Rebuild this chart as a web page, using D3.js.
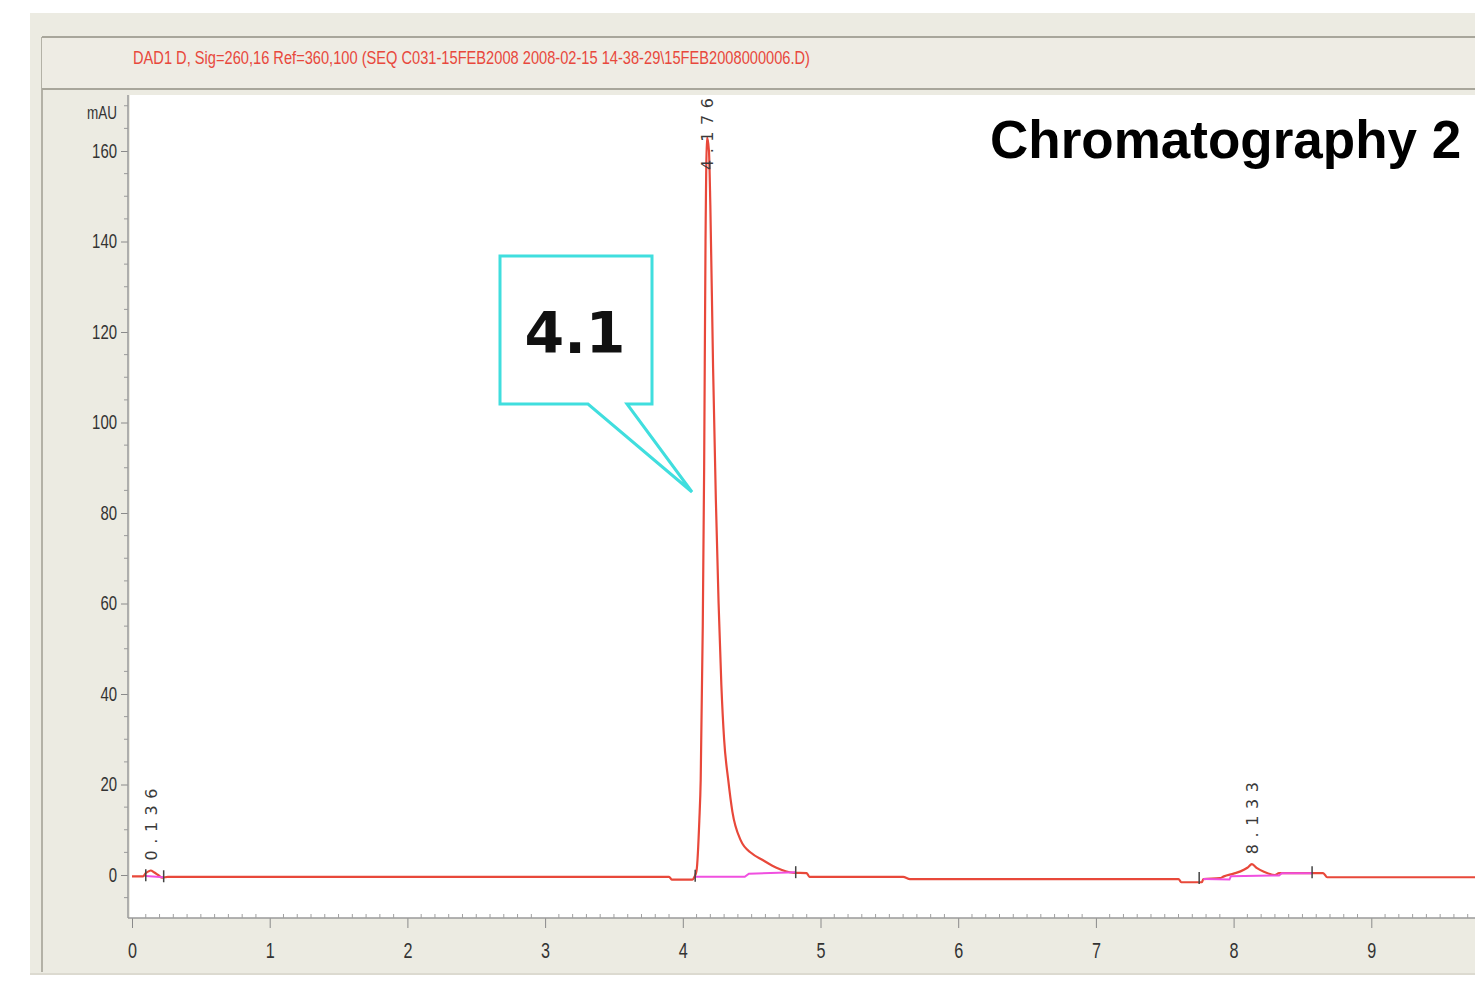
<!DOCTYPE html>
<html>
<head>
<meta charset="utf-8">
<script src="https://cdn.jsdelivr.net/npm/d3@7"></script>
<style>
  body { margin: 0; background: #fff; }
  svg { display: block; }
</style>
</head>
<body>
<div id="chart"></div>
<script>
// DATA
const headerText = "DAD1 D, Sig=260,16 Ref=360,100 (SEQ C031-15FEB2008 2008-02-15 14-38-29\\15FEB2008000006.D)";
const chartTitle = "Chromatography 2";
const calloutText = "4.1";

// signal trace: retention time (min), absorbance (mAU)
const traceTime = [0.00, 0.08, 0.10, 0.12, 0.136, 0.16, 0.19, 0.22, 0.26, 3.90, 3.92, 4.07, 4.085,
  4.10, 4.12, 4.13, 4.145, 4.155, 4.165, 4.176, 4.19, 4.20, 4.22, 4.24, 4.26, 4.28, 4.30, 4.33,
  4.36, 4.42, 4.50, 4.58, 4.68, 4.80, 4.90, 4.92, 5.60, 5.65, 7.60, 7.62, 7.77, 7.78, 7.90, 7.93,
  8.00, 8.05, 8.10, 8.133, 8.17, 8.22, 8.30, 8.33, 8.65, 8.68, 10.0];
const traceMAU = [-0.3, -0.3, 0.4, 0.8, 1.0, 0.6, 0.0, -0.6, -0.4, -0.4, -1.0, -1.0, -0.4,
  1.0, 12, 21, 55, 90, 140, 163, 160, 148, 112, 83, 60, 42, 30, 21,
  14, 7.7, 4.8, 3.3, 1.6, 0.5, 0.4, -0.4, -0.4, -0.9, -0.9, -1.6, -1.6, -0.9, -0.7, -0.3,
  0.3, 0.8, 1.6, 2.4, 1.5, 0.7, 0.0, 0.4, 0.4, -0.5, -0.5];

// integration baselines (magenta)
const baseline1Time = [0.10, 0.23];
const baseline1MAU = [-0.2, -0.5];
const baseline2Time = [4.09, 4.45, 4.48, 4.82];
const baseline2MAU = [-0.4, -0.4, 0.3, 0.6];
const baseline3Time = [7.78, 7.97, 7.98, 8.33, 8.35, 8.57];
const baseline3MAU = [-0.9, -1.0, -0.3, -0.1, 0.4, 0.4];

// peak start/end marks
const markTime = [0.10, 0.23, 4.09, 4.82, 7.75, 8.57];
const markMAU = [-0.3, -0.5, -0.4, 0.4, -0.9, 0.4];

// peak labels
const peakTime = [0.136, 4.176, 8.133];
const peakMAU = [1.0, 163, 2.4];
const peakLabel = ["0.136", "4.176", "8.133"];

// axes
const xTicks = [0, 1, 2, 3, 4, 5, 6, 7, 8, 9];
const yTicks = [0, 20, 40, 60, 80, 100, 120, 140, 160];

// SIZES
const W = 1475, H = 982;
const plotLeft = 130, plotTop = 95, plotBottom = 918;

const svg = d3.select("#chart").append("svg")
  .attr("width", W)
  .attr("height", H);

// SCALES
const xScale = d3.scaleLinear().domain([0, 10]).range([132, 132 + 10 * 137.7]);
const yScale = d3.scaleLinear().domain([0, 160]).range([875, 151]);

// PANEL BACKGROUND
svg.append("rect")
  .attr("x", 30).attr("y", 13)
  .attr("width", W - 30).attr("height", 961)
  .attr("fill", "#ecebe2");
svg.append("line")
  .attr("x1", 42).attr("x2", 42).attr("y1", 37).attr("y2", 972)
  .attr("stroke", "#b3b1a6").attr("stroke-width", 2);
svg.append("line")
  .attr("x1", 30).attr("x2", W).attr("y1", 974).attr("y2", 974)
  .attr("stroke", "#dcdad0").attr("stroke-width", 2);

// header band
svg.append("rect")
  .attr("x", 42).attr("y", 37)
  .attr("width", W - 42).attr("height", 52)
  .attr("fill", "#eeece4");
svg.append("line")
  .attr("x1", 42).attr("x2", W).attr("y1", 37).attr("y2", 37)
  .attr("stroke", "#a8a69b").attr("stroke-width", 2);
svg.append("line")
  .attr("x1", 42).attr("x2", W).attr("y1", 89).attr("y2", 89)
  .attr("stroke", "#a8a69b").attr("stroke-width", 2);

svg.append("text")
  .attr("x", 133).attr("y", 64)
  .attr("font-family", "'Liberation Sans', Arial, sans-serif")
  .attr("font-size", 19)
  .attr("fill", "#e8483c")
  .attr("textLength", 677)
  .attr("lengthAdjust", "spacingAndGlyphs")
  .text(headerText);

// plot area
svg.append("rect")
  .attr("x", plotLeft).attr("y", plotTop)
  .attr("width", W - plotLeft).attr("height", plotBottom - plotTop)
  .attr("fill", "#ffffff");

// AXES
const axisFont = "'Liberation Sans', Arial, sans-serif";
const digitW = 8.3; // labels are drawn condensed

// y axis: major ticks + minor ticks every 5
const yAxis = d3.axisLeft(yScale).tickValues(yTicks).tickSize(7).tickPadding(4).tickFormat(d3.format("d"));
const yAxisGroup = svg.append("g")
  .attr("transform", `translate(${plotLeft - 2},0)`)
  .call(yAxis);
yAxisGroup.select(".domain").remove();
yAxisGroup.append("line")
  .attr("x1", 0).attr("x2", 0).attr("y1", plotTop).attr("y2", plotBottom)
  .attr("stroke", "#9a9a9a").attr("stroke-width", 1.5);
yAxisGroup.selectAll(".tick line").attr("stroke", "#8a8a8a");
yAxisGroup.selectAll(".tick text")
  .attr("font-family", axisFont).attr("font-size", 20).attr("fill", "#333")
  .attr("textLength", d => String(d).length * digitW)
  .attr("lengthAdjust", "spacingAndGlyphs");
const yMinor = d3.range(-5, 171, 5).filter(v => v % 20 !== 0);
yAxisGroup.selectAll(".minor").data(yMinor).join("line")
  .attr("class", "minor")
  .attr("x1", -4).attr("x2", 0)
  .attr("y1", d => yScale(d)).attr("y2", d => yScale(d))
  .attr("stroke", "#9a9a9a");
yAxisGroup.append("text")
  .attr("x", -11).attr("y", 119)
  .attr("text-anchor", "end")
  .attr("font-family", axisFont).attr("font-size", 18).attr("fill", "#333")
  .attr("textLength", 30)
  .attr("lengthAdjust", "spacingAndGlyphs")
  .text("mAU");

// x axis
const xAxis = d3.axisBottom(xScale).tickValues(xTicks).tickSize(10).tickPadding(14).tickFormat(d3.format("d"));
const xAxisGroup = svg.append("g")
  .attr("transform", `translate(0,${plotBottom})`)
  .call(xAxis);
xAxisGroup.select(".domain").remove();
xAxisGroup.append("line")
  .attr("x1", plotLeft - 2).attr("x2", W).attr("y1", 0).attr("y2", 0)
  .attr("stroke", "#9a9a9a").attr("stroke-width", 1.5);
xAxisGroup.selectAll(".tick line").attr("stroke", "#8a8a8a");
xAxisGroup.selectAll(".tick text")
  .attr("font-family", axisFont).attr("font-size", 22).attr("fill", "#333")
  .attr("textLength", 9)
  .attr("lengthAdjust", "spacingAndGlyphs");
const xMinor = d3.range(1, 101).map(i => i / 10).filter(v => Math.abs(v - Math.round(v)) > 0.01);
xAxisGroup.selectAll(".minor").data(xMinor).join("line")
  .attr("class", "minor")
  .attr("x1", d => xScale(d)).attr("x2", d => xScale(d))
  .attr("y1", -4).attr("y2", 0)
  .attr("stroke", "#a0a0a0");

// TRACE
const plot = svg.append("g");
const line = d3.line().x(d => xScale(d[0])).y(d => yScale(d[1]));
const smoothLine = d3.line().curve(d3.curveMonotoneX).x(d => xScale(d[0])).y(d => yScale(d[1]));

const traceData = traceTime.map((t, i) => [t, traceMAU[i]]);
plot.append("path")
  .datum(traceData)
  .attr("d", smoothLine)
  .attr("fill", "none")
  .attr("stroke", "#e8483a")
  .attr("stroke-width", 2.2)
  .attr("stroke-linejoin", "round");

const baselines = [
  baseline1Time.map((t, i) => [t, baseline1MAU[i]]),
  baseline2Time.map((t, i) => [t, baseline2MAU[i]]),
  baseline3Time.map((t, i) => [t, baseline3MAU[i]])
];
plot.selectAll(".baseline").data(baselines).join("path")
  .attr("class", "baseline")
  .attr("d", line)
  .attr("fill", "none")
  .attr("stroke", "#f050e0")
  .attr("stroke-width", 2);

// peak start/end marks
plot.selectAll(".mark").data(markTime).join("line")
  .attr("class", "mark")
  .attr("x1", d => xScale(d)).attr("x2", d => xScale(d))
  .attr("y1", (d, i) => yScale(markMAU[i]) - 7)
  .attr("y2", (d, i) => yScale(markMAU[i]) + 5)
  .attr("stroke", "#444")
  .attr("stroke-width", 1.5);

// peak labels (rotated, clamped inside the top of the plot)
const labelLen = 72;
plot.selectAll(".peak-label").data(peakTime).join("text")
  .attr("class", "peak-label")
  .attr("transform", (d, i) => {
    const yStart = Math.max(yScale(peakMAU[i]) - 10, plotTop + labelLen + 3);
    return `translate(${xScale(d) + 6},${yStart}) rotate(-90)`;
  })
  .attr("font-family", "'DejaVu Sans', sans-serif")
  .attr("font-size", 16)
  .attr("fill", "#3a3a3a")
  .attr("textLength", labelLen)
  .attr("lengthAdjust", "spacing")
  .text((d, i) => peakLabel[i]);

// CALLOUT
const callout = svg.append("g");
callout.append("path")
  .attr("d", "M500,256 H652 V404 H627 L692,492 L588,404 H500 Z")
  .attr("fill", "#ffffff")
  .attr("stroke", "#40dede")
  .attr("stroke-width", 3)
  .attr("stroke-linejoin", "miter");
callout.append("text")
  .attr("x", 575).attr("y", 353)
  .attr("text-anchor", "middle")
  .attr("font-family", "'DejaVu Sans', Verdana, sans-serif")
  .attr("font-weight", "bold")
  .attr("font-size", 57)
  .attr("fill", "#111")
  .text(calloutText);

// TITLE
svg.append("text")
  .attr("x", 990).attr("y", 158)
  .attr("font-family", "'Liberation Sans', Arial, sans-serif")
  .attr("font-weight", "bold")
  .attr("font-size", 53)
  .attr("fill", "#000")
  .text(chartTitle);
</script>
</body>
</html>
